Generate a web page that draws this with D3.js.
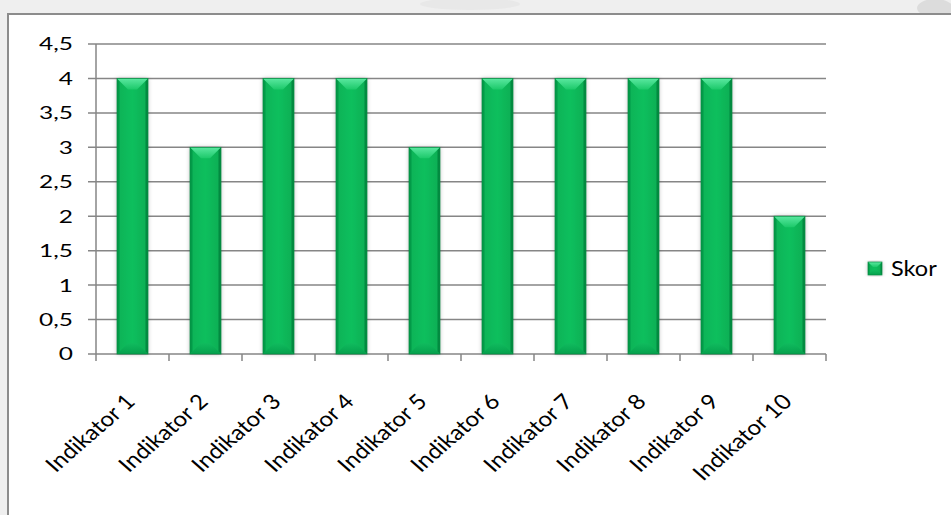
<!DOCTYPE html>
<html>
<head>
<meta charset="utf-8">
<script src="https://cdn.jsdelivr.net/npm/d3@7/dist/d3.min.js"></script>
<style>
  html, body { margin: 0; padding: 0; background: #efefef; }
  svg { display: block; }
</style>
</head>
<body>
<svg id="chart" width="951" height="515"></svg>
<script>
// Scores per indicator
const categories = ["Indikator 1", "Indikator 2", "Indikator 3", "Indikator 4", "Indikator 5",
                    "Indikator 6", "Indikator 7", "Indikator 8", "Indikator 9", "Indikator 10"];
const skor = [4, 3, 4, 4, 3, 4, 4, 4, 4, 2];
const yTicks = [0, 0.5, 1, 1.5, 2, 2.5, 3, 3.5, 4, 4.5];
const seriesName = "Skor";

const svg = d3.select("#chart");
const W = 951, H = 515;
const FONT = "Lato, 'Open Sans', sans-serif";

// page background behind the chart frame
const bg = svg.append("g");
bg.append("rect").attr("width", W).attr("height", H).attr("fill", "#efefef");
bg.append("ellipse").attr("cx", 470).attr("cy", 4).attr("rx", 50).attr("ry", 6).attr("fill", "#e8e8e8");
bg.append("ellipse").attr("cx", 935).attr("cy", 8).attr("rx", 18).attr("ry", 9).attr("fill", "#dcdcdc");

// chart frame
svg.append("rect")
  .attr("x", 8).attr("y", 14).attr("width", 960).attr("height", 520)
  .attr("fill", "#ffffff").attr("stroke", "#8c8c8c").attr("stroke-width", 2);

const plot = { left: 96, right: 826, top: 44, bottom: 354 };

const pad = 1 - 31 / 73;
const x = d3.scaleBand().domain(categories).range([plot.left, plot.right]).paddingInner(pad).paddingOuter(pad / 2);
const xb = d3.scaleBand().domain(categories).range([plot.left, plot.right]);
const y = d3.scaleLinear().domain([0, 4.5]).range([plot.bottom, plot.top]);

// horizontally widened text, fitted to a given width
function widen(sel, targetWidth) {
  sel.each(function () {
    const t = d3.select(this);
    const w = this.getComputedTextLength();
    t.attr("data-sx", targetWidth / w);
  });
}

// gridlines
svg.append("g").selectAll("line")
  .data(yTicks.filter(d => d > 0)).join("line")
  .attr("x1", plot.left - 8).attr("x2", plot.right)
  .attr("y1", d => y(d)).attr("y2", d => y(d))
  .attr("stroke", "#868686").attr("stroke-width", 1.5);

// y axis
const gy = svg.append("g");
gy.append("line").attr("x1", plot.left).attr("x2", plot.left)
  .attr("y1", plot.top).attr("y2", plot.bottom).attr("stroke", "#868686").attr("stroke-width", 1.5);
gy.append("line").attr("x1", plot.left - 8).attr("x2", plot.left)
  .attr("y1", y(0)).attr("y2", y(0)).attr("stroke", "#868686").attr("stroke-width", 1.5);
const ySX = 1.36;
gy.selectAll("text").data(yTicks).join("text")
  .attr("transform", d => `translate(73,${y(d)}) scale(${ySX},1)`)
  .attr("text-anchor", "end").attr("dy", "0.36em")
  .attr("font-family", FONT).attr("font-size", 18).attr("fill", "#000")
  .text(d => String(d).replace(".", ","));

// x axis with ticks at category boundaries
const gx = svg.append("g").attr("transform", `translate(0,${plot.bottom})`);
gx.append("line").attr("x1", plot.left).attr("x2", plot.right).attr("stroke", "#868686").attr("stroke-width", 1.5);
const bounds = categories.map(c => xb(c)).concat([plot.right]);
gx.selectAll("line.tk").data(bounds).join("line").attr("class", "tk")
  .attr("x1", d => d).attr("x2", d => d).attr("y1", 0).attr("y2", 7)
  .attr("stroke", "#868686").attr("stroke-width", 1.5);
const xSX = 1.15;
gx.selectAll("text").data(categories).join("text")
  .attr("transform", d => `translate(${xb(d) + xb.bandwidth() / 2 + 4},${49}) scale(${xSX},1) rotate(-45)`)
  .attr("text-anchor", "end")
  .attr("font-family", FONT).attr("font-size", 21).attr("fill", "#000")
  .text(d => d);

// bevelled bar gradients
const defs = svg.append("defs");
const face = defs.append("linearGradient").attr("id", "barFace").attr("x1", 0).attr("x2", 1).attr("y1", 0).attr("y2", 0);
face.append("stop").attr("offset", "0").attr("stop-color", "#08b257");
face.append("stop").attr("offset", "0.5").attr("stop-color", "#0cbf5d");
face.append("stop").attr("offset", "1").attr("stop-color", "#07ad54");
const topG = defs.append("linearGradient").attr("id", "barTop").attr("x1", 0).attr("x2", 0).attr("y1", 0).attr("y2", 1);
topG.append("stop").attr("offset", "0").attr("stop-color", "#5ae8a0");
topG.append("stop").attr("offset", "1").attr("stop-color", "#1cc96a");
const botG = defs.append("linearGradient").attr("id", "barBot").attr("x1", 0).attr("x2", 0).attr("y1", 0).attr("y2", 1);
botG.append("stop").attr("offset", "0").attr("stop-color", "#10bb5e");
botG.append("stop").attr("offset", "1").attr("stop-color", "#049e4b");
const shadow = defs.append("filter").attr("id", "sh").attr("x", "-40%").attr("y", "-10%").attr("width", "180%").attr("height", "120%");
shadow.append("feDropShadow").attr("dx", 0).attr("dy", 0).attr("stdDeviation", 2.2).attr("flood-color", "#000").attr("flood-opacity", 0.28);

function drawBevelBar(g, bx, by, bw, bh, depth, edge) {
  const b = Math.min(depth, bw / 2 - 1, bh / 2);
  const e = edge;
  g.append("rect").attr("x", bx).attr("y", by).attr("width", bw).attr("height", bh)
    .attr("fill", "url(#barFace)").attr("filter", "url(#sh)");
  // side edges
  g.append("path").attr("d", `M${bx},${by} L${bx + e},${by + e} L${bx + e},${by + bh - e} L${bx},${by + bh} Z`)
    .attr("fill", "#039a48");
  g.append("path").attr("d", `M${bx + bw},${by} L${bx + bw - e},${by + e} L${bx + bw - e},${by + bh - e} L${bx + bw},${by + bh} Z`)
    .attr("fill", "#028a40");
  // top bevel
  g.append("path").attr("d", `M${bx},${by} L${bx + bw},${by} L${bx + bw - b},${by + b} L${bx + b},${by + b} Z`)
    .attr("fill", "url(#barTop)");
  // bottom bevel
  g.append("path").attr("d", `M${bx},${by + bh} L${bx + b},${by + bh - b} L${bx + bw - b},${by + bh - b} L${bx + bw},${by + bh} Z`)
    .attr("fill", "url(#barBot)").attr("opacity", 0.9);
  g.append("rect").attr("x", bx).attr("y", by).attr("width", bw).attr("height", bh)
    .attr("fill", "none").attr("stroke", "#078c42").attr("stroke-width", 0.7);
}

const bars = svg.append("g");
categories.forEach((c, i) => {
  drawBevelBar(bars.append("g"), x(c), y(skor[i]), x.bandwidth(), y(0) - y(skor[i]), 11, 2.5);
});

// legend
const lg = svg.append("g").attr("transform", "translate(868,262)");
drawBevelBar(lg, 0, 0, 14, 13, 5, 1.5);
lg.append("text").attr("transform", "translate(23,6.5) scale(1.12,1)").attr("dy", "0.36em")
  .attr("font-family", FONT).attr("font-size", 21).attr("fill", "#000")
  .text(seriesName);
</script>
</body>
</html>
